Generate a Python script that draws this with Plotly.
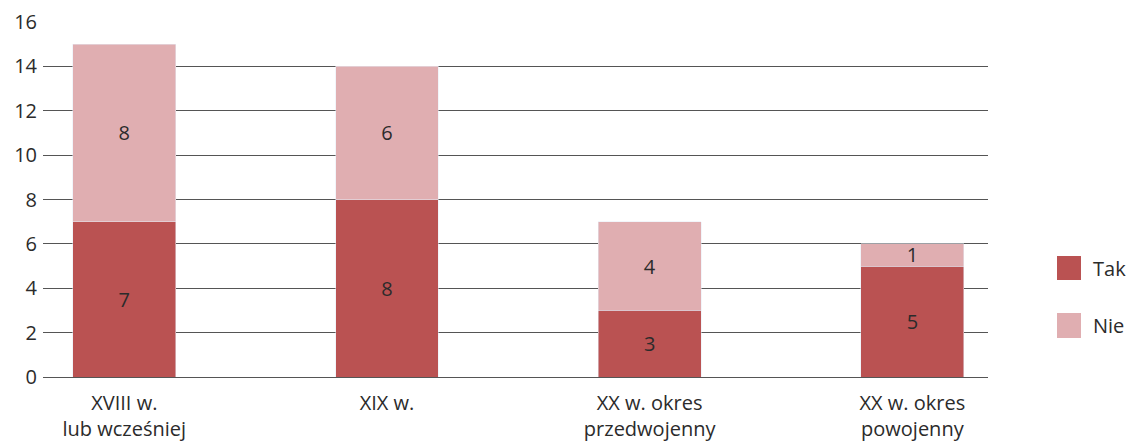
import plotly.graph_objects as go

categories = ["XVIII w.<br>lub wcześniej", "XIX w.", "XX w. okres<br>przedwojenny", "XX w. okres<br>powojenny"]
tak = [7, 8, 3, 5]
nie = [8, 6, 4, 1]
y_ticks = [0, 2, 4, 6, 8, 10, 12, 14, 16]

C_TAK = "#BA5252"
C_NIE = "#E0AEB1"
FONT = "Open Sans"
TXT = "#2b2b2b"
FS = 20

xpos = list(range(len(categories)))

fig = go.Figure()
fig.add_trace(go.Bar(x=xpos, y=tak, name="Tak", marker_color=C_TAK, width=0.391,
                     text=[str(v) for v in tak], textposition="inside",
                     insidetextanchor="middle", textangle=0,
                     textfont=dict(family=FONT, size=FS, color=TXT), showlegend=False))
fig.add_trace(go.Bar(x=xpos, y=nie, name="Nie", marker_color=C_NIE, width=0.391,
                     text=[str(v) for v in nie], textposition="inside",
                     insidetextanchor="middle", textangle=0,
                     textfont=dict(family=FONT, size=FS, color=TXT), showlegend=False))

# custom legend (squares + labels)
legend_items = [("Tak", C_TAK, 0.3408, 0.2732), ("Nie", C_NIE, 0.1803, 0.1099)]
for name, col, y1, y0 in legend_items:
    fig.add_shape(type="rect", xref="paper", yref="paper", x0=1.0730, x1=1.0984,
                  y0=y0, y1=y1, fillcolor=col, line=dict(width=0))
    fig.add_annotation(xref="paper", yref="paper", x=1.1085, y=(y0 + y1) / 2,
                       text=name, showarrow=False, xanchor="left", yanchor="middle",
                       font=dict(family=FONT, size=FS, color=TXT))

fig.update_layout(
    barmode="stack",
    width=1133, height=446,
    margin=dict(l=43, r=145, t=22, b=69),
    paper_bgcolor="white", plot_bgcolor="white",
    font=dict(family=FONT, size=FS, color=TXT),
    uniformtext=dict(minsize=FS - 1, mode="show"),
    xaxis=dict(range=[-0.3095, 3.288], tickmode="array", tickvals=xpos,
               ticktext=categories, showgrid=False, zeroline=False, showline=False,
               ticks="", ticklabelstandoff=12, automargin=False,
               tickfont=dict(family=FONT, size=FS, color=TXT)),
    yaxis=dict(range=[0, 16], tickmode="array", tickvals=y_ticks,
               ticktext=[str(v) for v in y_ticks], showgrid=True, gridcolor="#555555",
               gridwidth=1, zeroline=True, zerolinecolor="#555555", zerolinewidth=1,
               showline=False, ticks="", ticklabelstandoff=5, automargin=False,
               tickfont=dict(family=FONT, size=FS, color=TXT)),
)

fig.write_html("out.html")
